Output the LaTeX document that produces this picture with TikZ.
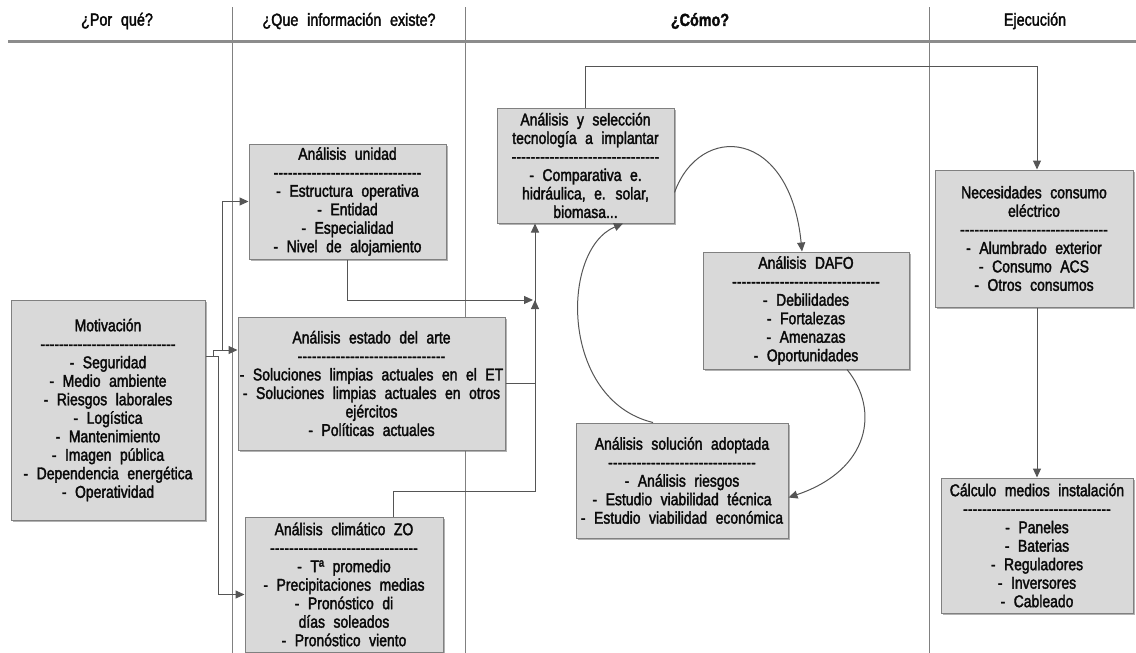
\documentclass[tikz,border=0pt]{standalone}
\usepackage{fontspec}
\setmainfont{Liberation Sans}[FakeStretch=0.82,WordSpace=2.2,FakeBold=2]
\usetikzlibrary{arrows.meta,shadows}

\definecolor{relleno}{HTML}{D9D9D9}
\definecolor{borde}{HTML}{808080}
\definecolor{linea}{HTML}{555555}
\definecolor{texto}{HTML}{0A0A0A}

% linea de guiones bajo el titulo de cada caja
\newcommand{\rayas}[1][148pt]{\leavevmode\xleaders\hbox{-}\hskip#1\kern0pt\relax}

\begin{document}
\begin{tikzpicture}[x=1pt,y=-1pt,
	caja/.style={draw=borde, line width=1pt, fill=relleno, align=center, inner sep=1pt, text=texto,
		font=\fontsize{17}{18.5}\selectfont,
		drop shadow={shadow xshift=1.5pt, shadow yshift=-1.5pt, fill=black!60, opacity=0.5}},
	cabecera/.style={text=texto, font=\fontsize{17.5}{20}\selectfont},
	conn/.style={draw=linea, line width=1pt, -{Triangle[length=9pt,width=8pt]}},
	columna/.style={draw=borde, line width=0.8pt},
	regla/.style={draw=black!45, line width=2.5pt}]
	\useasboundingbox ( 0, 0 ) rectangle ( 1136, 653 );

	% columnas y cabeceras
	\draw [columna] ( 232, 7 ) -- ( 232, 653 );
	\draw [columna] ( 465, 7 ) -- ( 465, 653 );
	\draw [columna] ( 929, 7 ) -- ( 929, 653 );
	\draw [regla] ( 8, 41.5 ) -- ( 1136, 41.5 );
	\node [cabecera] (h1) at ( 117, 21 ) {¿Por qué?};
	\node [cabecera] (h2) at ( 349, 21 ) {¿Que información existe?};
	\node [cabecera, font=\fontsize{17.5}{20}\bfseries] (h3) at ( 700, 21 ) {¿Cómo?};
	\node [cabecera] (h4) at ( 1035, 21 ) {Ejecución};

	% por que
	\node [caja, minimum width=194pt, minimum height=220pt] (mot) at ( 108, 410 ) {Motivación\\ \rayas[135pt]\\ - Seguridad\\ - Medio ambiente\\ - Riesgos laborales\\ - Logística\\ - Mantenimiento\\ - Imagen pública\\ - Dependencia energética\\ - Operatividad};

	% que informacion existe
	\node [caja, minimum width=197pt, minimum height=115pt] (uni) at ( 347.5, 201.5 ) {Análisis unidad\\ \rayas\\ - Estructura operativa\\ - Entidad\\ - Especialidad\\ - Nivel de alojamiento};
	\node [caja, minimum width=267pt, minimum height=133pt] (est) at ( 371.5, 383.5 ) {Análisis estado del arte\\ \rayas\\ - Soluciones limpias actuales en el ET\\ - Soluciones limpias actuales en otros\\ ejércitos\\ - Políticas actuales};
	\node [caja, minimum width=198pt, minimum height=135pt] (cli) at ( 344, 584.5 ) {Análisis climático ZO\\ \rayas\\ - Tª promedio\\ - Precipitaciones medias\\ - Pronóstico di\\ días soleados\\ - Pronóstico viento};

	% como
	\node [caja, minimum width=177pt, minimum height=115pt] (sel) at ( 585.5, 165.5 ) {Análisis y selección\\ tecnología a implantar\\ \rayas\\ - Comparativa e.\\ hidráulica, e. solar,\\ biomasa...};
	\node [caja, minimum width=206pt, minimum height=117pt] (dafo) at ( 806, 310.5 ) {Análisis DAFO\\ \rayas\\ - Debilidades\\ - Fortalezas\\ - Amenazas\\ - Oportunidades};
	\node [caja, minimum width=212pt, minimum height=115pt] (sol) at ( 682, 480.5 ) {Análisis solución adoptada\\ \rayas\\ - Análisis riesgos\\ - Estudio viabilidad técnica\\ - Estudio viabilidad económica};

	% ejecucion
	\node [caja, minimum width=198pt, minimum height=137pt] (nec) at ( 1034, 238.5 ) {Necesidades consumo\\ eléctrico\\ \rayas\\ - Alumbrado exterior\\ - Consumo ACS\\ - Otros consumos};
	\node [caja, minimum width=192pt, minimum height=135pt] (cal) at ( 1037, 545.5 ) {Cálculo medios instalación\\ \rayas\\ - Paneles\\ - Baterias\\ - Reguladores\\ - Inversores\\ - Cableado};

	% conexiones desde motivacion
	\coordinate (bus) at ( 218, 356 );
	\draw [conn] (mot.east |- bus) -- (bus) |- ([yshift=-10pt]cli.west);
	\draw [conn] ([xshift=-5pt]bus) |- ([yshift=33.5pt]est.west);
	\draw [conn] ([xshift=4pt,yshift=6pt]bus) |- (uni.west);

	% informacion hacia seleccion
	\coordinate (nudo) at ( 535, 300 );
	\coordinate (giro) at ( 535, 491 );
	\draw [conn] (uni.south) |- ([xshift=-2pt]nudo);
	\draw [conn] (est.east) -| (nudo);
	\draw [conn] ([xshift=49pt]cli.north) |- (giro) -- (giro |- sel.south);

	% ciclo
	\draw [conn] ([yshift=-27pt]sel.east) .. controls ( 700, 122 ) and ( 790, 128 ) .. ([xshift=-4pt]dafo.north);
	\draw [conn] ([xshift=41pt]dafo.south) .. controls ( 880, 410 ) and ( 870, 470 ) .. ([yshift=-17pt]sol.east);
	\draw [conn] ([xshift=-29pt]sol.north) .. controls ( 560, 400 ) and ( 560, 250 ) .. ([xshift=37.5pt]sel.south);

	% ejecucion
	\coordinate (arriba) at ( 1037, 66 );
	\draw [conn] (sel.north) |- (arriba) -- (arriba |- nec.north);
	\draw [conn] (arriba |- nec.south) -- (arriba |- cal.north);
\end{tikzpicture}
\end{document}
